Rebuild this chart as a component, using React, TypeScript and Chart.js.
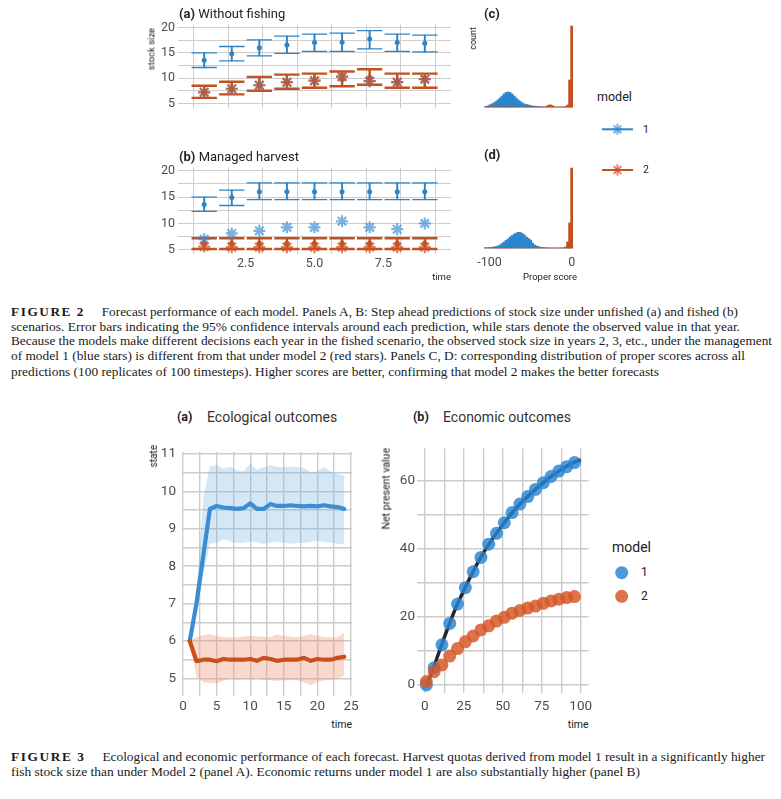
import React, { useEffect, useLayoutEffect, useRef } from "react";
import { Chart, registerables } from "chart.js";

Chart.register(...registerables);

const SANS = "Roboto, 'Noto Sans', 'DejaVu Sans', sans-serif";
const SERIF = "'Liberation Serif', 'DejaVu Serif', 'Times New Roman', serif";

const BLUE = "#2c84c6";
const RED = "#c4501d";
const BLUE_STAR = "rgba(60,140,215,0.68)";
const RED_STAR = "rgba(205,80,35,0.72)";
const HIST_BLUE = "#2a86cf";
const HIST_RED = "#c44e1c";
const LINE_BLUE = "#3a8dd3";
const LINE_RED = "#c94f1d";
const BAND_BLUE = "rgba(110,175,228,0.30)";
const BAND_RED = "rgba(238,150,118,0.36)";
const DOT_BLUE = "rgba(40,132,210,0.82)";
const DOT_RED = "rgba(214,88,40,0.84)";
const GRID = "#cccccc";
const TICK = "#4d4d4d";

// ===== Figure 2 (a, b): step-ahead forecasts of stock size =====
const forecastTime = [1, 2, 3, 4, 5, 6, 7, 8, 9];

// (a) Without fishing
const unfishedM1Mean = [13.56, 14.8, 16.0, 16.56, 17.06, 17.1, 17.75, 17.06, 16.9];
const unfishedM1Lower = [12.1, 13.4, 14.4, 14.9, 15.3, 15.3, 15.8, 15.3, 15.2];
const unfishedM1Upper = [15.0, 16.25, 17.56, 18.3, 18.7, 18.9, 19.4, 18.7, 18.5];
const unfishedM2Mean = [7.2, 7.9, 8.6, 9.2, 9.5, 9.8, 10.1, 9.3, 9.8];
const unfishedM2Lower = [6.1, 6.8, 7.5, 7.9, 8.1, 8.4, 8.7, 8.1, 8.1];
const unfishedM2Upper = [8.5, 9.3, 10.25, 10.7, 10.9, 11.3, 11.75, 10.9, 10.9];
const unfishedObsM1 = [7.2, 7.9, 8.6, 9.2, 9.5, 10.3, 9.4, 9.2, 9.8];
const unfishedObsM2 = [7.2, 7.9, 8.6, 9.2, 9.5, 10.3, 9.4, 9.2, 9.8];

// (b) Managed harvest
const harvestM1Mean = [13.6, 14.9, 16.0, 16.0, 16.0, 16.0, 16.0, 16.0, 16.0];
const harvestM1Lower = [12.3, 13.4, 14.5, 14.5, 14.5, 14.5, 14.5, 14.5, 14.5];
const harvestM1Upper = [15.0, 16.3, 17.7, 17.7, 17.7, 17.7, 17.7, 17.7, 17.7];
const harvestM2Mean = [6.2, 6.2, 6.2, 6.2, 6.2, 6.2, 6.2, 6.2, 6.2];
const harvestM2Lower = [5.15, 5.15, 5.15, 5.15, 5.15, 5.15, 5.15, 5.15, 5.15];
const harvestM2Upper = [7.2, 7.2, 7.2, 7.2, 7.2, 7.2, 7.2, 7.2, 7.2];
const harvestObsM1 = [7.0, 8.1, 8.6, 9.25, 9.25, 10.4, 9.25, 8.9, 10.0];
const harvestObsM2 = [5.6, 5.5, 5.5, 5.5, 5.5, 5.5, 5.5, 5.5, 5.5];

const fig2XTicks = [1.25, 2.5, 3.75, 5, 6.25, 7.5, 8.75];
const fig2XLabels = ["", "2.5", "", "5.0", "", "7.5", ""];
const fig2YTicks = [5, 7.5, 10, 12.5, 15, 17.5, 20];
const fig2YLabels = ["5", "", "10", "", "15", "", "20"];

// ===== Figure 2 (c, d): distribution of proper scores =====
const scoreBins = [
  -105, -102.5, -100, -97.5, -95, -92.5, -90, -87.5, -85, -82.5, -80, -77.5, -75, -72.5, -70,
  -67.5, -65, -62.5, -60, -57.5, -55, -52.5, -50, -47.5, -45, -42.5, -40, -37.5, -35, -32.5,
  -30, -27.5, -25, -22.5, -20, -17.5, -15, -12.5, -10, -7.5, -5, -2.5, 0,
];
const unfishedScoreM1 = [
  25, 50, 100, 150, 200, 275, 350, 450, 550, 650, 725, 750, 725, 650, 550,
  450, 350, 275, 200, 150, 125, 100, 75, 50, 40, 30, 20, 15, 0, 0,
  0, 0, 0, 0, 0, 0, 0, 0, 0, 0, 0, 0, 0,
];
const unfishedScoreM2 = [
  0, 0, 0, 0, 0, 0, 0, 0, 0, 0, 0, 0, 0, 0, 0,
  0, 0, 0, 0, 0, 0, 0, 0, 0, 0, 0, 0, 0, 0, 0,
  50, 100, 100, 50, 0, 0, 0, 0, 0, 25, 100, 1350, 4050,
];
const harvestScoreM1 = [
  15, 20, 25, 35, 50, 75, 100, 150, 225, 300, 375, 450, 550, 625, 700,
  750, 785, 775, 725, 650, 550, 475, 400, 250, 150, 100, 65, 40, 25, 15,
  0, 0, 0, 0, 0, 0, 0, 0, 0, 0, 0, 0, 0,
];
const harvestScoreM2 = [
  0, 0, 0, 0, 0, 0, 0, 0, 0, 0, 0, 0, 0, 0, 0,
  0, 0, 0, 0, 0, 0, 0, 0, 0, 0, 0, 0, 0, 0, 0,
  0, 0, 0, 0, 0, 0, 0, 0, 0, 50, 300, 1250, 4000,
];
const scoreTicks = [-100, 0];
const scoreLabels = ["-100", "0"];

// ===== Figure 3 (a): ecological outcomes =====
const ecoTime = [1, 2, 3, 4, 5, 6, 7, 8, 9, 10, 11, 12, 13, 14, 15, 16, 17, 18, 19, 20, 21, 22, 23, 24];
const ecoM1Mean = [6.0, 7.0, 8.26, 9.53, 9.61, 9.57, 9.55, 9.53, 9.55, 9.68, 9.53, 9.53, 9.66, 9.61, 9.61, 9.63, 9.61, 9.6, 9.61, 9.6, 9.63, 9.6, 9.58, 9.53];
const ecoM1Lower = [6.0, 6.75, 7.8, 8.6, 8.63, 8.72, 8.66, 8.63, 8.62, 8.66, 8.64, 8.59, 8.63, 8.66, 8.63, 8.6, 8.62, 8.63, 8.65, 8.68, 8.64, 8.63, 8.6, 8.58];
const ecoM1Upper = [6.0, 7.3, 9.8, 10.67, 10.7, 10.62, 10.66, 10.57, 10.53, 10.75, 10.57, 10.65, 10.7, 10.66, 10.65, 10.66, 10.65, 10.62, 10.52, 10.53, 10.65, 10.53, 10.47, 10.42];
const ecoM2Mean = [6.0, 5.46, 5.5, 5.5, 5.46, 5.52, 5.5, 5.5, 5.5, 5.52, 5.47, 5.55, 5.52, 5.47, 5.5, 5.5, 5.5, 5.55, 5.47, 5.52, 5.5, 5.5, 5.55, 5.58];
const ecoM2Lower = [6.0, 5.04, 4.9, 4.88, 4.87, 4.93, 4.99, 4.95, 4.99, 4.95, 4.99, 4.95, 4.96, 4.93, 4.95, 4.96, 4.95, 4.9, 4.82, 4.9, 4.95, 4.96, 4.99, 5.08];
const ecoM2Upper = [6.0, 6.1, 6.16, 6.18, 6.14, 6.1, 6.1, 6.1, 6.12, 6.14, 6.12, 6.12, 6.1, 6.18, 6.14, 6.12, 6.1, 6.14, 6.18, 6.14, 6.1, 6.1, 6.1, 6.22];
const ecoXTicks = [0, 2.5, 5, 7.5, 10, 12.5, 15, 17.5, 20, 22.5, 25];
const ecoXLabels = ["0", "", "5", "", "10", "", "15", "", "20", "", "25"];
const ecoYTicks = [5, 5.5, 6, 6.5, 7, 7.5, 8, 8.5, 9, 9.5, 10, 10.5, 11];
const ecoYLabels = ["5", "", "6", "", "7", "", "8", "", "9", "", "10", "", "11"];

// ===== Figure 3 (b): economic outcomes =====
const npvTime = [1, 6, 11, 16, 21, 26, 31, 36, 41, 46, 51, 56, 61, 66, 71, 76, 81, 86, 91, 96];
const npvM1 = [0, 5.1, 11.8, 18.1, 23.8, 28.6, 33.3, 37.5, 41.4, 44.6, 47.7, 50.7, 53.2, 55.4, 57.5, 59.5, 61.3, 62.9, 64.2, 65.4];
const npvM2 = [1.0, 3.9, 5.9, 8.5, 10.7, 12.7, 14.4, 16.2, 17.4, 18.8, 19.9, 21.1, 21.9, 22.6, 23.2, 24.0, 24.7, 25.2, 25.7, 26.0];
const npvCurveTime = [1, 5, 10, 15, 20, 25, 30, 35, 40, 45, 50, 55, 60, 65, 70, 75, 80, 85, 90, 95, 100];
const npvCurve = [0, 4.3, 10.8, 17.0, 22.8, 27.8, 32.5, 36.8, 40.6, 44.0, 47.1, 50.1, 52.7, 55.0, 57.1, 59.1, 61.0, 62.6, 64.0, 65.3, 66.3];
const npvXTicks = [0, 12.5, 25, 37.5, 50, 62.5, 75, 87.5, 100];
const npvXLabels = ["0", "", "25", "", "50", "", "75", "", "100"];
const npvYTicks = [0, 10, 20, 30, 40, 50, 60];
const npvYLabels = ["0", "", "20", "", "40", "", "60"];

// ---------- helpers ----------
const xy = (xs: number[], ys: number[]) => xs.map((x, i) => ({ x, y: ys[i] }));

type AxisOpts = {
  min: number;
  max: number;
  ticks?: number[];
  labels?: string[];
  size?: number;
  horizontal: boolean;
  showLabels?: boolean;
  fontSize?: number;
  pad?: number;
  grid?: boolean;
  gridWidth?: number;
  display?: boolean;
};

function linAxis(p: AxisOpts): any {
  const ticks = p.ticks ?? [];
  const labels = p.labels ?? [];
  return {
    type: "linear",
    display: p.display ?? true,
    min: p.min,
    max: p.max,
    offset: false,
    afterBuildTicks: (s: any) => {
      if (ticks.length) s.ticks = ticks.map((v) => ({ value: v }));
    },
    afterFit: (s: any) => {
      if (p.size !== undefined) {
        if (p.horizontal) s.height = p.size;
        else s.width = p.size;
      }
    },
    ticks: {
      display: p.showLabels ?? false,
      autoSkip: false,
      maxRotation: 0,
      minRotation: 0,
      padding: p.pad ?? 3,
      color: TICK,
      font: { family: SANS, size: p.fontSize ?? 12 },
      callback: (_v: any, i: number) => labels[i] ?? "",
    },
    grid: { display: p.grid ?? false, color: GRID, lineWidth: p.gridWidth ?? 1, drawTicks: false },
    border: { display: false },
  };
}

function baseOptions(padding: any, scales: any): any {
  return {
    responsive: true,
    maintainAspectRatio: false,
    animation: false,
    events: [],
    layout: { padding },
    plugins: { legend: { display: false }, tooltip: { enabled: false }, title: { display: false } },
    scales,
  };
}

// half-width of an error-bar cap, in pixels, from the x scale (cap spans 0.92 time units)
const capHalfWidth = (ctx: any) => {
  const s = ctx.chart.scales.x;
  return Math.abs(s.getPixelForValue(0.46) - s.getPixelForValue(0));
};

function errorBars(mean: number[], lower: number[], upper: number[], color: string, whisker: number, cap: number, dot: number, order: number): any[] {
  return [
    {
      type: "bar",
      data: forecastTime.map((t, i) => ({ x: t, y: [lower[i], upper[i]] })),
      backgroundColor: color,
      barThickness: whisker,
      grouped: false,
      order: order + 2,
    },
    {
      type: "scatter",
      data: [...xy(forecastTime, upper), ...xy(forecastTime, lower)],
      pointStyle: "line",
      pointRadius: capHalfWidth,
      borderColor: color,
      borderWidth: cap,
      order: order + 1,
    },
    {
      type: "scatter",
      data: xy(forecastTime, mean),
      pointStyle: "circle",
      pointRadius: dot,
      backgroundColor: color,
      borderWidth: 0,
      order,
    },
  ];
}

function forecastConfig(
  m1Mean: number[], m1Lower: number[], m1Upper: number[],
  m2Mean: number[], m2Lower: number[], m2Upper: number[],
  obs1: number[], obs2: number[], showX: boolean, xSize: number
): any {
  return {
    type: "scatter",
    data: {
      datasets: [
        ...errorBars(m1Mean, m1Lower, m1Upper, BLUE, 1.3, 1.3, 2.5, 30),
        ...errorBars(m2Mean, m2Lower, m2Upper, RED, 1.8, 2.4, 2.6, 20),
        { type: "scatter", data: xy(forecastTime, obs1), pointStyle: "star", pointRadius: 6, borderColor: BLUE_STAR, backgroundColor: "transparent", borderWidth: 2.2, order: 2 },
        { type: "scatter", data: xy(forecastTime, obs2), pointStyle: "star", pointRadius: 6, borderColor: RED_STAR, backgroundColor: "transparent", borderWidth: 2.2, order: 1 },
      ],
    },
    options: baseOptions({ top: 10, right: 9, left: 0, bottom: 0 }, {
      x: linAxis({ min: 0.05, max: 9.95, ticks: fig2XTicks, labels: fig2XLabels, size: xSize, horizontal: true, showLabels: showX, fontSize: 12.5, pad: 2, grid: true }),
      y: linAxis({ min: 4.2, max: 20.6, ticks: fig2YTicks, labels: fig2YLabels, size: 48, horizontal: false, showLabels: true, fontSize: 12.5, pad: 3, grid: true }),
    }),
  };
}

function scoreConfig(m1: number[], m2: number[], yMin: number, yMax: number, showX: boolean, padTop: number, padBottom: number, xSize: number): any {
  const bars = (vals: number[], color: string, order: number) => ({
    type: "bar",
    data: xy(scoreBins, vals),
    backgroundColor: color,
    borderWidth: 0,
    barPercentage: 1,
    categoryPercentage: 1,
    grouped: false,
    order,
  });
  return {
    type: "bar",
    data: { datasets: [bars(m1, HIST_BLUE, 1), bars(m2, HIST_RED, 0)] },
    options: baseOptions({ top: padTop, left: 11, right: 13, bottom: padBottom }, {
      x: linAxis({ min: -110.5, max: 6.5, ticks: scoreTicks, labels: scoreLabels, size: xSize, horizontal: true, showLabels: showX, fontSize: 12.5, pad: 3, grid: false, display: showX }),
      y: linAxis({ min: yMin, max: yMax, horizontal: false, display: false }),
    }),
  };
}

function ecoConfig(): any {
  const band = (vals: number[], fill: any, color: string, order: number) => ({
    type: "line",
    data: xy(ecoTime, vals),
    borderWidth: 0,
    borderColor: "rgba(0,0,0,0)",
    pointRadius: 0,
    fill,
    backgroundColor: color,
    order,
  });
  const mean = (vals: number[], color: string, order: number) => ({
    type: "line",
    data: xy(ecoTime, vals),
    borderColor: color,
    borderWidth: 4.2,
    borderJoinStyle: "round",
    borderCapStyle: "round",
    pointRadius: 0,
    fill: false,
    order,
  });
  return {
    type: "line",
    data: {
      datasets: [
        band(ecoM1Lower, false, BAND_BLUE, 5),
        band(ecoM1Upper, "-1", BAND_BLUE, 5),
        band(ecoM2Lower, false, BAND_RED, 4),
        band(ecoM2Upper, "-1", BAND_RED, 4),
        mean(ecoM1Mean, LINE_BLUE, 1),
        mean(ecoM2Mean, LINE_RED, 0),
      ],
    },
    options: baseOptions({ top: 10, right: 13, left: 0, bottom: 0 }, {
      x: linAxis({ min: -0.15, max: 25.15, ticks: ecoXTicks, labels: ecoXLabels, size: 20, horizontal: true, showLabels: true, fontSize: 13.5, pad: 3, grid: true, gridWidth: 1.4 }),
      y: linAxis({ min: 4.53, max: 11.05, ticks: ecoYTicks, labels: ecoYLabels, size: 42, horizontal: false, showLabels: true, fontSize: 13.5, pad: 6, grid: true, gridWidth: 1.4 }),
    }),
  };
}

function npvConfig(): any {
  return {
    type: "scatter",
    data: {
      datasets: [
        {
          type: "line",
          data: xy(npvCurveTime, npvCurve),
          borderColor: "#262626",
          borderWidth: 3.5,
          pointRadius: 0,
          cubicInterpolationMode: "monotone",
          fill: false,
          order: 3,
        },
        { type: "scatter", data: xy(npvTime, npvM1), pointRadius: 6.5, backgroundColor: DOT_BLUE, borderWidth: 0, order: 2 },
        { type: "scatter", data: xy(npvTime, npvM2), pointRadius: 6.5, backgroundColor: DOT_RED, borderWidth: 0, order: 1 },
      ],
    },
    options: baseOptions({ top: 10.3, right: 11.5, left: 0, bottom: 0 }, {
      x: linAxis({ min: -5, max: 105, ticks: npvXTicks, labels: npvXLabels, size: 22.7, horizontal: true, showLabels: true, fontSize: 13.5, pad: 5, grid: true, gridWidth: 1.4 }),
      y: linAxis({ min: -2.45, max: 69.6, ticks: npvYTicks, labels: npvYLabels, size: 39, horizontal: false, showLabels: true, fontSize: 13.5, pad: 2, grid: true, gridWidth: 1.4 }),
    }),
  };
}

// ---------- components ----------
function ChartCanvas({ left, top, width, height, make }: { left: number; top: number; width: number; height: number; make: () => any }) {
  const ref = useRef<HTMLCanvasElement | null>(null);
  useEffect(() => {
    if (!ref.current) return;
    const chart = new Chart(ref.current, make());
    return () => chart.destroy();
  }, []);
  return (
    <div style={{ position: "absolute", left, top, width, height }}>
      <canvas ref={ref} />
    </div>
  );
}

function Label({ x, y, size, children, weight = 400, color = "#222", align = "left" }: any) {
  const style: React.CSSProperties = {
    position: "absolute",
    top: y,
    transform: "translateY(-50%)",
    fontSize: size,
    fontWeight: weight,
    color,
    fontFamily: SANS,
    lineHeight: 1.15,
    whiteSpace: "nowrap",
  };
  if (align === "right") style.right = 781 - x;
  else style.left = x;
  return <div style={style}>{children}</div>;
}

function VLabel({ cx, top, size, children }: any) {
  const lh = size * 1.2;
  return (
    <div
      style={{
        position: "absolute",
        left: cx - lh / 2,
        top,
        width: lh,
        writingMode: "vertical-rl",
        transform: "rotate(180deg)",
        fontSize: size,
        lineHeight: `${lh}px`,
        whiteSpace: "nowrap",
        fontFamily: SANS,
        color: "#222",
      }}
    >
      {children}
    </div>
  );
}

function FitLine({ x, y, right, children }: any) {
  const ref = useRef<HTMLDivElement | null>(null);
  useLayoutEffect(() => {
    const el = ref.current;
    if (!el) return;
    el.style.transform = "translateY(-50%)";
    const w = el.getBoundingClientRect().width;
    if (w > 0) el.style.transform = `translateY(-50%) scaleX(${(right - x) / w})`;
  }, []);
  return (
    <div
      ref={ref}
      style={{
        position: "absolute",
        left: x,
        top: y,
        whiteSpace: "nowrap",
        transformOrigin: "0 50%",
        fontFamily: SERIF,
        fontSize: 13.5,
        lineHeight: "16px",
        color: "#1a1a1a",
      }}
    >
      {children}
    </div>
  );
}

function FigTag({ n }: { n: number }) {
  return <span style={{ fontWeight: 700, letterSpacing: "1.6px", marginRight: 17 }}>FIGURE {n}</span>;
}

function Star({ cx, cy, r, color, w }: any) {
  return (
    <g stroke={color} strokeWidth={w}>
      {[0, 45, 90, 135].map((a) => {
        const rad = (a * Math.PI) / 180;
        const dx = r * Math.cos(rad);
        const dy = r * Math.sin(rad);
        return <line key={a} x1={cx - dx} y1={cy - dy} x2={cx + dx} y2={cy + dy} />;
      })}
    </g>
  );
}

export default function App() {
  return (
    <div
      style={{
        position: "absolute",
        left: 0,
        top: 0,
        width: 781,
        height: 799,
        background: "#fff",
        overflow: "hidden",
        fontFamily: SANS,
      }}
    >
      {/* ===== Figure 2 ===== */}
      <ChartCanvas left={130} top={14} width={330} height={104}
        make={() => forecastConfig(unfishedM1Mean, unfishedM1Lower, unfishedM1Upper, unfishedM2Mean, unfishedM2Lower, unfishedM2Upper, unfishedObsM1, unfishedObsM2, false, 6)} />
      <ChartCanvas left={130} top={157} width={330} height={118}
        make={() => forecastConfig(harvestM1Mean, harvestM1Lower, harvestM1Upper, harvestM2Mean, harvestM2Lower, harvestM2Upper, harvestObsM1, harvestObsM2, true, 21)} />
      <ChartCanvas left={470} top={10} width={120} height={110}
        make={() => scoreConfig(unfishedScoreM1, unfishedScoreM2, -200, 4250, false, 12, 9, 0)} />
      <ChartCanvas left={470} top={150} width={120} height={125}
        make={() => scoreConfig(harvestScoreM1, harvestScoreM2, -200, 4200, true, 14, 0, 23)} />

      <Label x={179} y={14} size={13}><b>(a)</b> Without fishing</Label>
      <Label x={179} y={157} size={13}><b>(b)</b> Managed harvest</Label>
      <Label x={484} y={14} size={13}><b>(c)</b></Label>
      <Label x={484} y={155} size={13}><b>(d)</b></Label>
      <VLabel cx={151} top={28} size={9.5}>stock size</VLabel>
      <VLabel cx={473.5} top={27} size={9}>count</VLabel>
      <Label x={451} y={277} size={9.5} align="right">time</Label>
      <Label x={577} y={277} size={9.5} align="right">Proper score</Label>

      <Label x={597} y={97} size={12.5}>model</Label>
      <svg style={{ position: "absolute", left: 595, top: 115, width: 45, height: 70 }} width={45} height={70}>
        <line x1={7} y1={14.3} x2={38} y2={14.3} stroke={BLUE} strokeWidth={2} />
        <Star cx={22.5} cy={14.3} r={5.5} color={BLUE_STAR} w={2} />
        <line x1={7} y1={55} x2={38} y2={55} stroke={RED} strokeWidth={2} />
        <Star cx={22.5} cy={55} r={5.5} color={RED_STAR} w={2} />
      </svg>
      <Label x={643} y={129.5} size={10.5}>1</Label>
      <Label x={643} y={170} size={10.5}>2</Label>

      <FitLine x={11} y={311.7} right={738}>
        <FigTag n={2} />Forecast performance of each model. Panels A, B: Step ahead predictions of stock size under unfished (a) and fished (b)
      </FitLine>
      <FitLine x={11} y={326.7} right={740}>
        scenarios. Error bars indicating the 95% confidence intervals around each prediction, while stars denote the observed value in that year.
      </FitLine>
      <FitLine x={11} y={341.3} right={772}>
        Because the models make different decisions each year in the fished scenario, the observed stock size in years 2, 3, etc., under the management
      </FitLine>
      <FitLine x={11} y={356.3} right={745}>
        of model 1 (blue stars) is different from that under model 2 (red stars). Panels C, D: corresponding distribution of proper scores across all
      </FitLine>
      <FitLine x={11} y={371.7} right={659}>
        predictions (100 replicates of 100 timesteps). Higher scores are better, confirming that model 2 makes the better forecasts
      </FitLine>

      {/* ===== Figure 3 ===== */}
      <ChartCanvas left={140} top={438} width={225} height={278} make={ecoConfig} />
      <ChartCanvas left={378} top={438} width={222} height={278} make={npvConfig} />

      <Label x={177} y={417} size={12.5}><b>(a)</b></Label>
      <Label x={207} y={417} size={14} color="#333">Ecological outcomes</Label>
      <Label x={413} y={417} size={12.5}><b>(b)</b></Label>
      <Label x={443} y={417} size={14} color="#333">Economic outcomes</Label>
      <VLabel cx={154} top={445} size={10}>state</VLabel>
      <VLabel cx={387.5} top={448} size={10.5}>Net present value</VLabel>
      <Label x={352} y={725} size={10.5} align="right">time</Label>
      <Label x={588.5} y={725} size={10.5} align="right">time</Label>

      <Label x={612} y={547} size={14}>model</Label>
      <svg style={{ position: "absolute", left: 610, top: 560, width: 24, height: 50 }} width={24} height={50}>
        <circle cx={11.7} cy={12.7} r={6.5} fill={DOT_BLUE} />
        <circle cx={11.7} cy={36.3} r={6.5} fill={DOT_RED} />
      </svg>
      <Label x={641} y={573} size={12}>1</Label>
      <Label x={641} y={596.5} size={12}>2</Label>

      <FitLine x={11} y={756.7} right={765}>
        <FigTag n={3} />Ecological and economic performance of each forecast. Harvest quotas derived from model 1 result in a significantly higher
      </FitLine>
      <FitLine x={11} y={771.7} right={640}>
        fish stock size than under Model 2 (panel A). Economic returns under model 1 are also substantially higher (panel B)
      </FitLine>
    </div>
  );
}
